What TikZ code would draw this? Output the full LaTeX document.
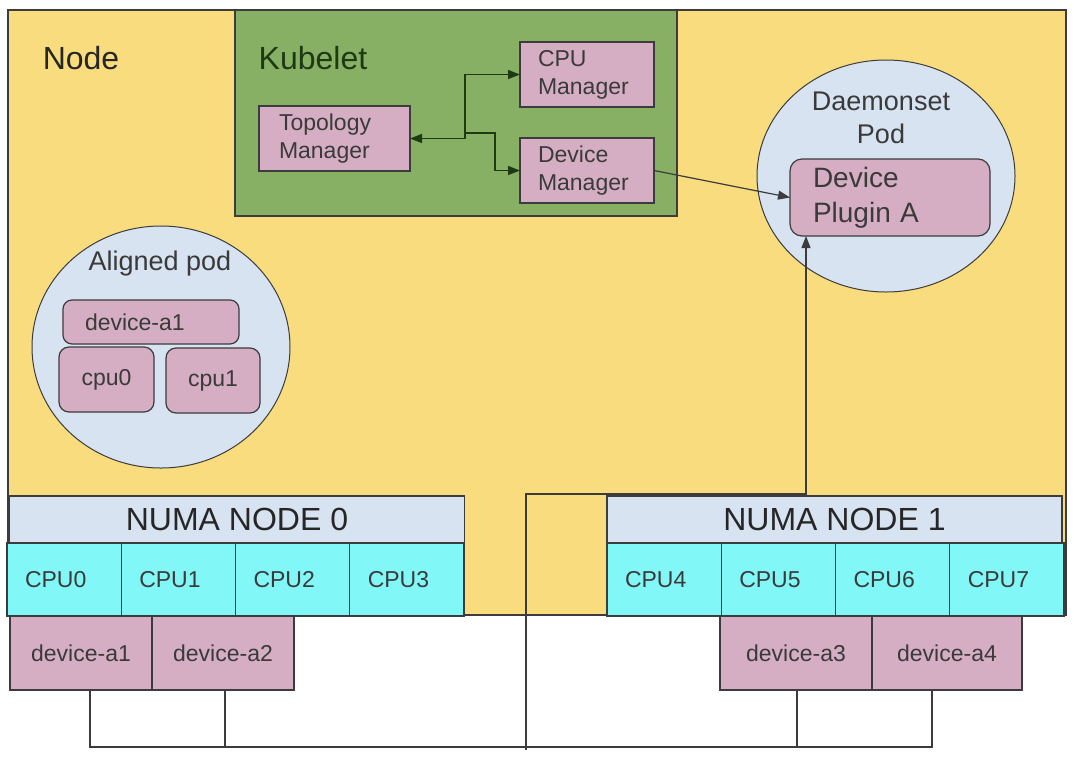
\documentclass[tikz,border=0pt]{standalone}
\usepackage{fontspec}
\setmainfont{Liberation Sans}
\usetikzlibrary{arrows.meta,shapes.geometric}
\tikzset{>={Triangle[length=12pt,width=9pt]}}
\definecolor{NodeYellow}{HTML}{F8DC7E}
\definecolor{KubeGreen}{HTML}{87B065}
\definecolor{KubeText}{HTML}{1E3A12}
\definecolor{PodPink}{HTML}{D5AEC3}
\definecolor{PodBlue}{HTML}{D7E3F1}
\definecolor{CpuCyan}{HTML}{82F7F7}
\definecolor{LabelGray}{HTML}{3A3A3A}
\definecolor{EdgeGray}{HTML}{3C3C3C}
\begin{document}
\begin{tikzpicture}[x=1pt,y=-1pt,
		big/.style={font=\fontsize{32}{38}\selectfont},
		mid/.style={font=\fontsize{28}{35}\selectfont},
		small/.style={font=\fontsize{23}{28}\selectfont},
		pinkbox/.style={draw=EdgeGray,fill=PodPink,line width=1.2pt,text=LabelGray,small,inner sep=0pt,outer sep=0pt},
		cpucell/.style={draw=EdgeGray,fill=CpuCyan,line width=1.2pt,text=LabelGray,small,minimum height=73pt,text width=78.25pt,inner xsep=18pt,inner ysep=0pt,outer sep=0pt,align=left},
		numabar/.style={draw=EdgeGray,fill=PodBlue,line width=1.2pt,big,text=black!85,minimum width=455pt,minimum height=47pt,inner sep=0pt,outer sep=0pt},
		pod/.style={ellipse,draw=EdgeGray,fill=PodBlue,line width=1pt,inner sep=0pt},
		wire/.style={draw=EdgeGray,line width=1.2pt}]
			% \draw[help lines,step=50] (0,0) grid (1074,764);
			\fill[white] (0,0) rectangle (1074,764);
			\useasboundingbox (0,0) rectangle (1074,764);
			% node and kubelet
			\node[draw=EdgeGray,fill=NodeYellow,line width=1.5pt,minimum width=1058pt,minimum height=605pt,inner sep=0pt] (node) at (537,312.5) {};
			\node[big,text=black!85] (nodelabel) at (81,58) {Node};
			\node[draw=EdgeGray,fill=KubeGreen,line width=1.5pt,minimum width=442pt,minimum height=206pt,inner sep=0pt] (kubelet) at (456,113) {};
			\node[big,text=KubeText] (kubeletlabel) at (313,58) {Kubelet};
			\node[pinkbox,text width=111pt,inner xsep=20pt,minimum height=65pt,align=left] (topo) at (334.5,138.5) {Topology\\Manager};
			\node[pinkbox,text width=98pt,inner xsep=18pt,minimum height=65pt,align=left] (cpumgr) at (587,74.5) {CPU\\Manager};
			\node[pinkbox,text width=98pt,inner xsep=18pt,minimum height=65pt,align=left] (devmgr) at (587,170.5) {Device\\Manager};
			\coordinate (split) at (465,133);
			\draw[<->,line width=1.5pt,KubeText] (topo.east) -- ++(55,0) |- (cpumgr.west);
			\draw[->,line width=1.5pt,KubeText] (split) -- ++(30,0) |- (devmgr.west);
			% daemonset pod
			\node[pod,minimum width=258pt,minimum height=232pt] (dspod) at (886,176) {};
			\node[mid,text=LabelGray,align=center,font=\fontsize{27}{33}\selectfont] (dspodlabel) at (881,118) {Daemonset\\Pod};
			\node[pinkbox,mid,text width=154pt,inner xsep=23pt,minimum height=77pt,align=left,rounded corners=12pt] (plugin) at (890,197.5) {Device\\Plugin A};
			\draw[->,wire] (devmgr.east) -- (plugin.west);
			% aligned pod
			\node[pod,minimum width=258pt,minimum height=242pt] (alpod) at (161,347) {};
			\node[text=LabelGray,font=\fontsize{27}{33}\selectfont] (alpodlabel) at (160,264) {Aligned pod};
			\node[pinkbox,text width=132pt,inner xsep=22pt,minimum height=44pt,align=left,rounded corners=9pt] (aldev) at (151,322) {device-a1};
			\node[pinkbox,minimum width=95pt,minimum height=65pt,rounded corners=10pt] (alcpu0) at (106.5,379.5) {cpu0};
			\node[pinkbox,minimum width=94pt,minimum height=65pt,rounded corners=10pt] (alcpu1) at (213,380.5) {cpu1};
			% numa nodes
			\node[numabar] (numa0) at (237,519.5) {NUMA NODE 0};
			\node[numabar] (numa1) at (834.5,519.5) {NUMA NODE 1};
			\foreach \i in {0,...,3}{
				\node[cpucell] (cpu\i) at ({7+114.25*(\i+0.5)},579.5) {CPU\i};
			}
			\foreach \i in {4,...,7}{
				\node[cpucell] (cpu\i) at ({607+114.25*(\i-3.5)},579.5) {CPU\i};
			}
			\node[pinkbox,minimum width=142pt,minimum height=74pt] (deva1) at (81,653) {device-a1};
			\node[pinkbox,minimum width=142pt,minimum height=74pt] (deva2) at (223,653) {device-a2};
			\node[pinkbox,minimum width=152pt,minimum height=74pt] (deva3) at (796,653) {device-a3};
			\node[pinkbox,minimum width=150pt,minimum height=74pt] (deva4) at (947,653) {device-a4};
			% wiring
			\coordinate (busL) at (90,747);
			\coordinate (busR) at (932,747);
			\coordinate (busM) at (526,750);
			\draw[wire] ([xshift=9pt]deva1.south) |- (busR) -- ([xshift=-15pt]deva4.south);
			\draw[wire] ([xshift=2pt]deva2.south) |- (busL);
			\draw[wire] ([xshift=1pt]deva3.south) |- (busR);
			\draw[wire,->] (busM) -- ++(0,-256) -| ([xshift=16pt]plugin.south west);
		\end{tikzpicture}
\end{document}
